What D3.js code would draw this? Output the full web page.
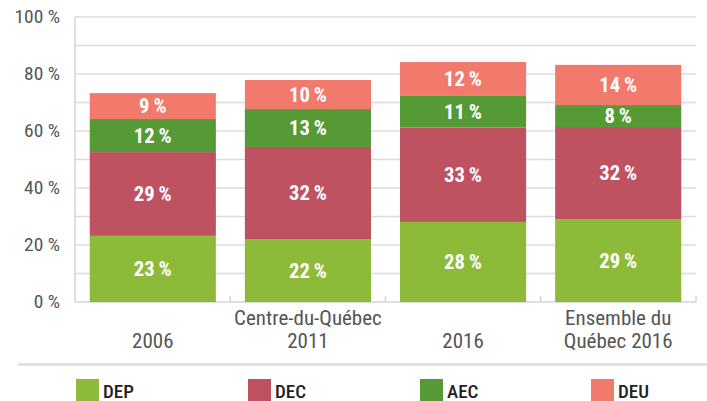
<!DOCTYPE html>
<html><head><meta charset="utf-8">
<script src="https://cdn.jsdelivr.net/npm/d3@7"></script>
<style>
body{margin:0;background:#fff;}
svg{display:block;font-family:"Roboto Condensed","Liberation Sans Narrow","Roboto",sans-serif;}
</style></head>
<body><svg id="c" width="707" height="401"></svg>
<script>
const categories = [["2006"], ["Centre-du-Québec", "2011"], ["2016"], ["Ensemble du", "Québec 2016"]];
const seriesNames = ["DEP", "DEC", "AEC", "DEU"];
const DEP = [23.2, 22.1, 28.1, 29.1];
const DEC = [29.4, 32.3, 33.1, 32.3];
const AEC = [11.6, 13.3, 11.1, 7.7];
const DEU = [9.1, 10.2, 11.9, 14.1];
const labels = {
  DEP: ["23", "22", "28", "29"],
  DEC: ["29", "32", "33", "32"],
  AEC: ["12", "13", "11", "8"],
  DEU: ["9", "10", "12", "14"]
};
const yTicks = [0, 20, 40, 60, 80, 100];
const colors = {DEP: "#8DBB39", DEC: "#BE5261", AEC: "#559A35", DEU: "#F27A6C"};

const svg = d3.select("#c");
function txt(parent, px, py, s, o) {
  const gg = parent.append("g").attr("transform", `translate(${px},${py}) scale(${o.sx || 1},1)`);
  return gg.append("text").attr("text-anchor", o.anchor || "start").attr("font-size", o.size)
    .attr("font-weight", o.weight || "normal").attr("fill", o.fill).text(s);
}

const x0 = 75, x1 = 696, yTop = 17, yBot = 302;
const x = d3.scaleBand().domain(d3.range(categories.length)).range([x0, x1]).paddingInner(0.187).paddingOuter(0.095);
const y = d3.scaleLinear().domain([0, 100]).range([yBot, yTop]);

const grid = d3.range(10, 101, 10);
svg.append("g").selectAll("line").data(grid).join("line")
  .attr("x1", x0).attr("x2", x1).attr("y1", d => y(d)).attr("y2", d => y(d))
  .attr("stroke", "#dcdcdc").attr("stroke-width", 1.5);

svg.append("line").attr("x1", x0).attr("x2", x0).attr("y1", y(100)).attr("y2", yBot)
  .attr("stroke", "#d4d4d4").attr("stroke-width", 1.5);
svg.append("line").attr("x1", x0).attr("x2", x1).attr("y1", yBot).attr("y2", yBot)
  .attr("stroke", "#d4d4d4").attr("stroke-width", 1.5);
svg.append("g").selectAll("line").data(d3.range(1, categories.length + 1)).join("line")
  .attr("x1", d => x0 + d * (x1 - x0) / categories.length).attr("x2", d => x0 + d * (x1 - x0) / categories.length)
  .attr("y1", yBot - 6).attr("y2", yBot).attr("stroke", "#d4d4d4").attr("stroke-width", 1.5);

const ya = svg.append("g");
yTicks.forEach(d => txt(ya, 60, y(d) + 6, d + " %", {anchor: "end", size: 18, fill: "#555", sx: 1.08}));

const data = categories.map((c, i) => ({i, DEP: DEP[i], DEC: DEC[i], AEC: AEC[i], DEU: DEU[i]}));
const stack = d3.stack().keys(seriesNames)(data);
const g = svg.append("g");
stack.forEach(s => {
  g.append("g").selectAll("rect").data(s).join("rect")
    .attr("x", d => x(d.data.i)).attr("width", x.bandwidth())
    .attr("y", d => y(d[1])).attr("height", d => y(d[0]) - y(d[1]))
    .attr("fill", colors[s.key]);
  const lg = g.append("g");
  s.forEach(d => txt(lg, x(d.data.i) + x.bandwidth() / 2, (y(d[0]) + y(d[1])) / 2 + 7,
    labels[s.key][d.data.i] + "\u2009%", {anchor: "middle", size: 20, weight: "bold", fill: "#fff", sx: 1.03}));
});

const xa = svg.append("g");
categories.forEach((lines, i) => {
  lines.forEach((ln, k) => {
    txt(xa, x(i) + x.bandwidth() / 2, 348 - (lines.length - 1 - k) * 23, ln, {anchor: "middle", size: 20, fill: "#555", sx: 1.05});
  });
});

svg.append("line").attr("x1", 18).attr("x2", 707).attr("y1", 364.5).attr("y2", 364.5)
  .attr("stroke", "#dddddd").attr("stroke-width", 2.5);

const legX = [76, 248, 420, 591];
seriesNames.forEach((d, i) => {
  const lg = svg.append("g").attr("transform", `translate(${legX[i]},379)`);
  lg.append("rect").attr("width", 23).attr("height", 23).attr("fill", colors[d]);
  txt(lg, 27, 19, d, {size: 19, weight: 500, fill: "#222"});
});
</script></body></html>
